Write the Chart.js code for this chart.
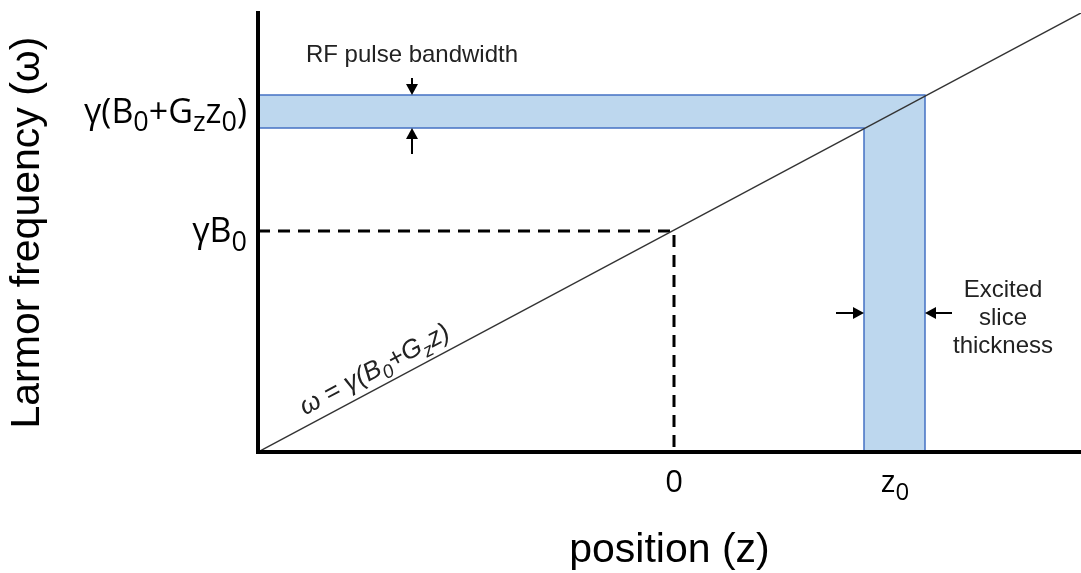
<!DOCTYPE html>
<html>
<head>
<meta charset="utf-8">
<script src="https://cdn.jsdelivr.net/npm/chart.js@4.4.1/dist/chart.umd.min.js"></script>
<style>
  html, body { margin: 0; padding: 0; background: #fff; }
  #wrap { width: 1081px; height: 573px; }
</style>
</head>
<body>
<div id="wrap"><canvas id="chart"></canvas></div>
<script>
// axis ranges (arbitrary units)
const zRange = [-4.16, 4.07];
const wRange = [0, 4.39];

// omega = gamma(B0 + Gz z)
const lineZ = [-4.16, 4.07];
const lineW = [0, 4.39];

const gammaB0 = 2.21;           // omega at z = 0
const z0 = 2.21;                // slice centre
const sliceEdges = [1.90, 2.51];
const rfBand = [3.24, 3.57];    // omega range of the RF pulse

const xTicks = [0, z0];
const xTickLabels = ['0', 'z_0'];
const yTicks = [gammaB0, (rfBand[0] + rfBand[1]) / 2];
const yTickLabels = ['γB_0', 'γ(B_0+G_zz_0)'];

const bandFill = '#bdd7ee';
const bandLine = '#4472c4';

// "a_0" -> [['a',false],['0',true]]
function parts(str) {
  const out = [];
  for (let i = 0; i < str.length; i++) {
    if (str[i] === '_' && i + 1 < str.length) { out.push([str[i + 1], true]); i++; }
    else out.push([str[i], false]);
  }
  return out;
}

// draws text with subscripts, align: 'left' | 'center' | 'right'
function subText(ctx, str, x, y, size, family, align, style, subScale) {
  const segs = parts(str);
  const big = (style || '') + ' ' + size + 'px ' + family;
  const small = (style || '') + ' ' + Math.round(size * (subScale || 0.72)) + 'px ' + family;
  let w = 0;
  segs.forEach(s => { ctx.font = s[1] ? small : big; w += ctx.measureText(s[0]).width; });
  let cx = align === 'right' ? x - w : align === 'center' ? x - w / 2 : x;
  ctx.textAlign = 'left';
  ctx.textBaseline = 'alphabetic';
  segs.forEach(s => {
    ctx.font = s[1] ? small : big;
    ctx.fillText(s[0], cx, s[1] ? y + size * 0.25 : y);
    cx += ctx.measureText(s[0]).width;
  });
}

function arrow(ctx, x1, y1, x2, y2) {
  const a = Math.atan2(y2 - y1, x2 - x1);
  const hl = 11, hw = 6;
  ctx.save();
  ctx.strokeStyle = '#000';
  ctx.fillStyle = '#000';
  ctx.lineWidth = 2;
  ctx.beginPath();
  ctx.moveTo(x1, y1);
  ctx.lineTo(x2 - Math.cos(a) * hl, y2 - Math.sin(a) * hl);
  ctx.stroke();
  ctx.beginPath();
  ctx.moveTo(x2, y2);
  ctx.lineTo(x2 - Math.cos(a) * hl - Math.sin(a) * hw, y2 - Math.sin(a) * hl + Math.cos(a) * hw);
  ctx.lineTo(x2 - Math.cos(a) * hl + Math.sin(a) * hw, y2 - Math.sin(a) * hl - Math.cos(a) * hw);
  ctx.closePath();
  ctx.fill();
  ctx.restore();
}

const labelsPlugin = {
  id: 'labels',
  afterDraw(chart) {
    const { ctx, chartArea } = chart;
    const x = chart.scales.x, y = chart.scales.y;
    const tickFont = '"Open Sans", sans-serif';
    const noteFont = '"Liberation Sans", Arial, sans-serif';
    ctx.save();
    ctx.fillStyle = '#000';

    // tick labels with subscripts
    xTicks.forEach((v, i) => {
      subText(ctx, xTickLabels[i], x.getPixelForValue(v), 492, 31, tickFont, 'center', '', 0.78);
    });
    yTicks.forEach((v, i) => {
      subText(ctx, yTickLabels[i], chartArea.left - 11, y.getPixelForValue(v) + 11, 34, tickFont, 'right', '', 0.78);
    });

    // RF pulse bandwidth
    const rfX = x.getPixelForValue(-2.62);
    ctx.fillStyle = '#222';
    ctx.font = '24px ' + noteFont;
    ctx.textAlign = 'center';
    ctx.textBaseline = 'alphabetic';
    ctx.fillText('RF pulse bandwidth', rfX, y.getPixelForValue(3.90));
    arrow(ctx, rfX, y.getPixelForValue(3.74), rfX, y.getPixelForValue(rfBand[1]));
    arrow(ctx, rfX, y.getPixelForValue(2.98), rfX, y.getPixelForValue(rfBand[0]));

    // slice thickness
    const sy = y.getPixelForValue(1.39);
    arrow(ctx, x.getPixelForValue(1.62), sy, x.getPixelForValue(sliceEdges[0]), sy);
    arrow(ctx, x.getPixelForValue(2.78), sy, x.getPixelForValue(sliceEdges[1]), sy);
    const tx = x.getPixelForValue(3.29);
    ctx.fillText('Excited', tx, y.getPixelForValue(1.55));
    ctx.fillText('slice', tx, y.getPixelForValue(1.27));
    ctx.fillText('thickness', tx, y.getPixelForValue(0.99));

    // equation along the line
    const p1x = x.getPixelForValue(lineZ[0]), p1y = y.getPixelForValue(lineW[0]);
    const p2x = x.getPixelForValue(lineZ[1]), p2y = y.getPixelForValue(lineW[1]);
    const ang = Math.atan2(p2y - p1y, p2x - p1x);
    const mx = x.getPixelForValue(-2.91);
    const my = p1y + (mx - p1x) * Math.tan(ang);
    ctx.translate(mx, my);
    ctx.rotate(ang);
    subText(ctx, 'ω = γ(B_0+G_zz)', 0, -10, 26, noteFont, 'center', 'italic');
    ctx.restore();
  }
};

const axisFont = { family: '"Liberation Sans", Arial, sans-serif', size: 41, lineHeight: 1 };

new Chart(document.getElementById('chart'), {
  type: 'line',
  data: {
    datasets: [
      {
        // RF band (horizontal)
        data: [{ x: zRange[0], y: rfBand[1] }, { x: sliceEdges[1], y: rfBand[1] }],
        borderWidth: 0,
        backgroundColor: bandFill,
        fill: { value: rfBand[0] },
        pointRadius: 0,
        order: 6
      },
      {
        // excited slice (vertical)
        data: [{ x: sliceEdges[0], y: rfBand[0] }, { x: sliceEdges[1], y: rfBand[0] }],
        borderWidth: 0,
        backgroundColor: bandFill,
        fill: { value: wRange[0] },
        pointRadius: 0,
        order: 5
      },
      {
        data: [{ x: zRange[0], y: rfBand[1] }, { x: sliceEdges[1], y: rfBand[1] }, { x: sliceEdges[1], y: wRange[0] }],
        borderColor: bandLine,
        borderWidth: 1.5,
        fill: false,
        pointRadius: 0,
        order: 4
      },
      {
        data: [{ x: zRange[0], y: rfBand[0] }, { x: sliceEdges[0], y: rfBand[0] }, { x: sliceEdges[0], y: wRange[0] }],
        borderColor: bandLine,
        borderWidth: 1.5,
        fill: false,
        pointRadius: 0,
        order: 3
      },
      {
        // dashed guides to gamma B0
        data: [{ x: zRange[0], y: gammaB0 }, { x: 0, y: gammaB0 }, { x: 0, y: wRange[0] }],
        borderColor: '#000',
        borderWidth: 3,
        borderDash: [12, 8],
        fill: false,
        pointRadius: 0,
        order: 2
      },
      {
        data: lineZ.map((z, i) => ({ x: z, y: lineW[i] })),
        borderColor: '#333',
        borderWidth: 1.5,
        fill: false,
        pointRadius: 0,
        order: 1
      }
    ]
  },
  options: {
    responsive: true,
    maintainAspectRatio: false,
    animation: false,
    layout: { padding: { top: 13, left: 0, right: 0, bottom: 0 } },
    plugins: { legend: { display: false }, tooltip: { enabled: false } },
    scales: {
      x: {
        type: 'linear',
        min: zRange[0],
        max: zRange[1],
        grid: { display: false },
        border: { display: true, color: '#000', width: 4, z: 1 },
        ticks: { display: false },
        title: { display: true, text: 'position (z)', color: '#000', font: axisFont, padding: { top: 0, bottom: 2 } },
        afterFit(scale) { scale.height = 121; }
      },
      y: {
        min: wRange[0],
        max: wRange[1],
        grid: { display: false },
        border: { display: true, color: '#000', width: 4, z: 1 },
        ticks: { display: false },
        title: { display: true, text: 'Larmor frequency (ω)', color: '#000', font: axisFont, padding: { top: 7, bottom: 0 } },
        afterFit(scale) { scale.width = 258; }
      }
    }
  },
  plugins: [labelsPlugin]
});
</script>
</body>
</html>
